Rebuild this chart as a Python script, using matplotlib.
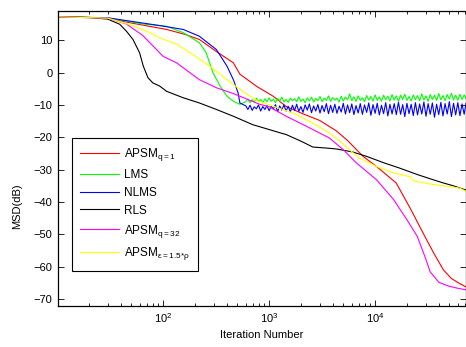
import matplotlib
matplotlib.use("Agg")
import matplotlib.pyplot as plt
from matplotlib.ticker import LogLocator, NullFormatter

plt.rcParams['font.family'] = ['Liberation Sans', 'DejaVu Sans']
plt.rcParams['mathtext.fontset'] = 'custom'
plt.rcParams['mathtext.rm'] = 'Liberation Sans'
plt.rcParams['mathtext.it'] = 'Liberation Sans'
plt.rcParams['mathtext.sf'] = 'Liberation Sans'

# ---------------- data ----------------
rls_x = [10.2, 20, 30, 39, 45, 52, 60, 65, 72, 80, 93, 108, 155, 220, 318, 460,
         700, 1000, 1460, 2000, 2580, 3400, 4300, 6100, 8500, 11900, 17000,
         25000, 33000, 43000, 55000, 72000]
rls_y = [17.2, 17.0, 16.5, 14.9, 12.8, 10.2, 6.1, 2.0, -1.6, -3.2, -4.2, -5.8,
         -7.8, -9.4, -11.4, -13.5, -16.1, -17.6, -19.2, -21.2, -23.0, -23.3,
         -23.6, -24.5, -26.0, -27.8, -29.5, -31.5, -32.8, -34.0, -35.0, -36.3]

apsm1_x = [10.2, 30, 52, 108, 160, 220, 318, 460, 530, 765, 1090, 1450, 2000,
           3000, 4300, 5500, 7700, 10300, 15800, 21500, 28800, 35800, 44000,
           52000, 60000, 72000]
apsm1_y = [17.2, 16.8, 15.2, 13.3, 11.8, 10.2, 6.5, 3.0, -0.5, -4.3, -7.3,
           -10.5, -12.5, -14.8, -18.0, -21.0, -25.9, -29.0, -34.1, -42.0, -50.0,
           -55.8, -60.9, -63.5, -64.8, -66.2]

apsm32_x = [10.2, 30, 45, 64, 75, 100, 134, 180, 220, 318, 460, 815, 1010,
            1450, 2250, 3700, 5000, 6650, 10300, 15000, 20000, 25000, 30000,
            33000, 40000, 50000, 60000, 72000]
apsm32_y = [17.2, 16.8, 15.0, 11.5, 9.2, 5.0, 3.0, -0.1, -2.2, -4.7, -6.5,
            -9.8, -10.6, -13.5, -16.6, -20.2, -23.8, -27.9, -33.1, -39.3, -45.5,
            -50.6, -57.5, -61.5, -64.8, -66.0, -66.6, -67.1]

apsmeps_x = [10.2, 30, 52, 75, 93, 135, 190, 275, 400, 530, 760, 1090, 1680,
             2600, 3700, 4450, 6200, 7200, 10300, 15000, 21500, 23000, 35800,
             50000, 63000, 72000]
apsmeps_y = [17.2, 16.8, 14.5, 12.3, 10.7, 8.7, 5.6, 2.0, -2.2, -5.2, -8.6,
             -10.4, -12.5, -15.6, -18.7, -20.7, -24.8, -26.5, -29.0, -31.0, -32.2,
             -33.5, -34.6, -35.2, -35.7, -36.7]

# transient parts of LMS / NLMS
lms_x = [10.2, 30, 64, 108, 155, 220, 255, 296, 345, 400, 460, 530]
lms_y = [17.2, 16.9, 15.0, 14.3, 12.3, 9.2, 6.1, -0.1, -4.2, -7.3, -8.9, -9.8]
nlms_x = [10.2, 30, 93, 155, 220, 318, 400, 460, 510, 530]
nlms_y = [17.2, 16.9, 14.5, 13.3, 11.2, 7.1, 2.0, -2.2, -6.3, -9.4]

# steady-state (noisy) parts of LMS / NLMS
ss_x = [603, 631, 661, 692, 724, 759, 794, 832, 871, 912, 955,
        1000, 1047, 1096, 1148, 1202, 1259, 1318, 1380, 1445, 1514,
        1585, 1660, 1738, 1820, 1905, 1995, 2089, 2188, 2291, 2399,
        2512, 2630, 2754, 2884, 3020, 3162, 3311, 3467, 3631, 3802,
        3981, 4169, 4365, 4571, 4786, 5012, 5248, 5495, 5754, 6026,
        6310, 6607, 6918, 7244, 7586, 7943, 8318, 8710, 9120, 9550,
        10000, 10470, 10960, 11480, 12020, 12590, 13180, 13800, 14450, 15140,
        15850, 16600, 17380, 18200, 19050, 19950, 20890, 21880, 22910, 23990,
        25120, 26300, 27540, 28840, 30200, 31620, 33110, 34670, 36310, 38020,
        39810, 41690, 43650, 45710, 47860, 50120, 52480, 54950, 57540, 60260,
        63100, 66070, 69180, 72000]
lms_ss = [-9.0, -8.2, -9.3, -8.4, -9.1, -7.9, -9.0, -8.3, -9.4, -8.1,
          -9.0, -7.8, -8.9, -8.2, -9.3, -8.0, -8.8, -7.6, -9.1, -8.3,
          -9.2, -7.9, -8.7, -8.1, -9.0, -7.5, -8.9, -8.2, -9.3, -7.8,
          -8.8, -7.6, -9.1, -8.0, -8.7, -7.4, -9.0, -7.9, -8.6, -7.2,
          -8.9, -7.7, -8.5, -7.9, -9.1, -7.3, -8.8, -7.6, -8.4, -6.6,
          -8.7, -7.5, -8.9, -7.2, -8.6, -7.8, -9.0, -7.1, -8.5, -7.4,
          -8.8, -6.9, -8.6, -7.5, -8.9, -7.0, -8.4, -7.3, -8.8, -6.8,
          -8.5, -7.2, -8.9, -7.0, -8.3, -6.7, -8.6, -7.4, -8.8, -6.9,
          -8.4, -7.1, -8.7, -6.6, -8.5, -7.2, -8.9, -6.8, -8.3, -7.0,
          -8.6, -6.5, -8.4, -7.1, -8.7, -6.8, -8.2, -6.4, -8.5, -7.0,
          -8.6, -6.7, -8.3, -6.9, -8.0]
nlms_ss = [-10.3, -11.4, -10.1, -11.7, -10.6, -11.2, -10.0, -11.9, -10.5, -11.4,
           -10.2, -11.8, -10.4, -11.3, -9.9, -12.1, -10.3, -11.6, -10.0, -11.9,
           -10.4, -12.2, -10.1, -11.7, -9.8, -12.0, -10.5, -12.3, -10.0, -11.6,
           -9.7, -12.4, -10.3, -11.9, -9.9, -12.5, -10.2, -12.1, -9.6, -12.7,
           -10.1, -12.3, -9.8, -12.6, -10.4, -12.2, -9.5, -12.8, -10.0, -12.4,
           -9.7, -13.0, -10.2, -12.5, -9.6, -12.9, -10.0, -12.3, -9.4, -13.2,
           -9.9, -12.6, -9.5, -13.1, -10.1, -12.7, -9.3, -13.4, -9.8, -12.8,
           -9.6, -13.0, -9.2, -12.9, -9.9, -13.6, -9.5, -12.7, -9.8, -13.3,
           -9.3, -13.1, -9.7, -12.8, -9.1, -13.5, -9.6, -12.9, -9.4, -13.8,
           -9.8, -13.0, -9.2, -13.4, -9.6, -12.8, -9.0, -13.6, -9.5, -13.1,
           -9.3, -13.3, -9.7, -12.9, -9.5]

labels = [r'APSM$_{q=1}$', 'LMS', 'NLMS', 'RLS', r'APSM$_{q=32}$',
          r'APSM$_{\varepsilon=1.5{*}\rho}$']
colors = ['#ff0000', '#00ff00', '#0000ff', '#000000', '#ff00ff', '#ffff00']
y_ticks = [-70, -60, -50, -40, -30, -20, -10, 0, 10]

# ---------------- figure ----------------
W, H = 466, 347
fig = plt.figure(figsize=(W / 100, H / 100), dpi=100)
ax = fig.add_axes([58 / W, 1 - 305.7 / H, 408 / W, 294.7 / H])

series = [
    (apsm1_x, apsm1_y),
    (lms_x + ss_x, lms_y + lms_ss),
    (nlms_x + ss_x, nlms_y + nlms_ss),
    (rls_x, rls_y),
    (apsm32_x, apsm32_y),
    (apsmeps_x, apsmeps_y),
]
lines = []
for (xs, ys), c, lab in zip(series, colors, labels):
    ln, = ax.plot(xs, ys, color=c, lw=0.8, label=lab)
    lines.append(ln)

ax.set_xscale('log')
ax.set_xlim(10.2, 72000)
ax.set_ylim(-72, 19)
ax.set_yticks(y_ticks)
ax.xaxis.set_major_locator(LogLocator(base=10, numticks=10))
ax.xaxis.set_minor_locator(LogLocator(base=10, subs=range(2, 10), numticks=20))
ax.xaxis.set_minor_formatter(NullFormatter())
ax.tick_params(which='both', direction='in', top=True, right=True,
               labelsize=8, width=0.6, colors='black')
ax.tick_params(which='major', length=4, pad=4)
ax.tick_params(which='minor', length=2)
for s in ax.spines.values():
    s.set_linewidth(0.9)

ax.set_xlabel('Iteration Number', fontsize=8)
ax.set_ylabel('MSD(dB)', fontsize=8)
ax.xaxis.set_label_coords(0.5, -0.083)
ax.yaxis.set_label_coords(-0.088, 0.336)

leg = ax.legend(handles=lines, loc='lower left',
                bbox_to_anchor=(14 / 408, 35 / 294.7, 126 / 408, 0.3),
                mode='expand', borderaxespad=0,
                fontsize=8.5, frameon=True, fancybox=False, framealpha=1,
                edgecolor='black', handlelength=3.3, handletextpad=0.4,
                labelspacing=0.5, borderpad=0.7)
leg.get_frame().set_linewidth(0.8)

fig.savefig('out.png', dpi=100)
